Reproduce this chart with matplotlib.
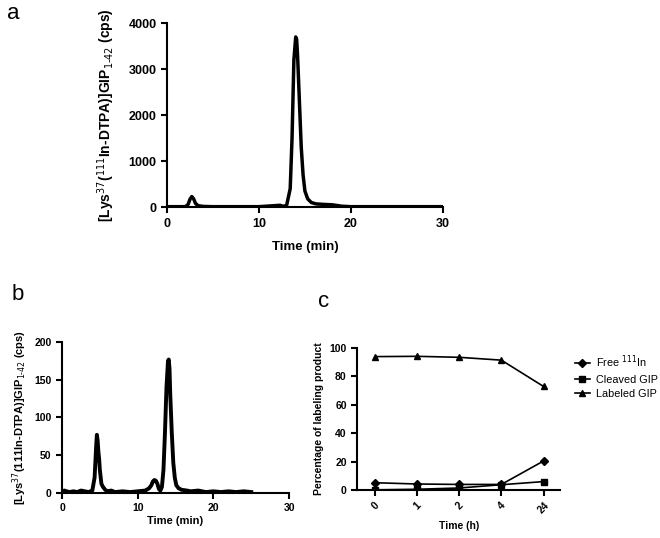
import numpy as np
import matplotlib
matplotlib.use("Agg")
import matplotlib.pyplot as plt

plt.rcParams['font.family'] = ['Liberation Sans', 'DejaVu Sans']

# panel a chromatogram (time in min, counts in cps)
a_time = [0, 2.0, 2.3, 2.5, 2.7, 2.9, 3.1, 3.4, 4.0, 5.0, 10.0, 12.3, 12.6, 13.0, 13.4,
          13.6, 13.8, 14.0, 14.1, 14.2, 14.4, 14.6, 14.8, 15.0, 15.3, 15.7, 16.2, 17.0,
          18.0, 19.0, 20.0, 30.0]
a_cps = [10, 10, 60, 170, 230, 180, 80, 30, 15, 10, 10, 40, 20, 30, 400,
         1500, 3200, 3700, 3650, 3300, 2300, 1300, 700, 350, 180, 100, 70, 60,
         50, 20, 10, 10]

# panel b chromatogram
b_time = [0, 0.3, 0.6, 1.0, 1.5, 2.0, 2.5, 3.0, 3.5, 4.0, 4.3, 4.5, 4.6, 4.7, 4.8, 4.9,
          5.0, 5.2, 5.4, 5.7, 6.0, 6.5, 7.0, 8.0, 9.0, 10.0, 11.0, 11.5, 11.8, 12.0,
          12.2, 12.4, 12.6, 12.8, 13.0, 13.2, 13.4, 13.6, 13.8, 14.0, 14.1, 14.2,
          14.3, 14.5, 14.7, 14.9, 15.1, 15.4, 15.8, 16.5, 17.0, 18.0, 19.0, 20.0,
          21.0, 22.0, 23.0, 24.0, 25.0]
b_cps = [1, 3, 2, 1, 2, 1, 3, 2, 1, 3, 20, 60, 77, 70, 55, 45,
         30, 12, 8, 4, 2, 3, 1, 2, 1, 2, 3, 6, 10, 15,
         17, 16, 12, 5, 3, 8, 30, 80, 140, 175, 177, 165,
         130, 80, 40, 20, 10, 6, 4, 3, 2, 3, 1, 2,
         1, 2, 1, 2, 1]

# panel c stability
c_labels = ['0', '1', '2', '4', '24']
free_in = [5.2, 4.3, 4.0, 4.0, 20.5]
cleaved_gip = [0.2, 0.6, 1.5, 3.8, 6.0]
labeled_gip = [94.0, 94.2, 93.5, 91.5, 73.0]

fig = plt.figure(figsize=(6.6, 5.38), dpi=100)

def style(ax, fs):
    ax.spines['top'].set_visible(False)
    ax.spines['right'].set_visible(False)
    ax.spines['left'].set_linewidth(1.5)
    ax.spines['bottom'].set_linewidth(1.5)
    ax.tick_params(direction='out', width=1.5, length=4, labelsize=fs)
    for lab in ax.get_xticklabels() + ax.get_yticklabels():
        lab.set_fontweight('bold')

# a
ax1 = fig.add_axes([0.253, 0.615, 0.418, 0.342])
ax1.plot(a_time, a_cps, color='black', lw=2.5)
ax1.set_xlim(0, 30)
ax1.set_ylim(0, 4000)
ax1.set_xticks([0, 10, 20, 30])
ax1.set_yticks([0, 1000, 2000, 3000, 4000])
style(ax1, 9)
ax1.set_xlabel('Time (min)', fontsize=9.5, fontweight='bold', labelpad=8)
ax1.set_ylabel(r'[Lys$^{37}$($^{111}$In-DTPA)]GIP$_{1\text{-}42}$ (cps)',
               fontsize=10, fontweight='bold', labelpad=8)
fig.text(0.01, 0.975, 'a', fontsize=16, va='center')

# b
ax2 = fig.add_axes([0.094, 0.084, 0.344, 0.28])
ax2.plot(b_time, b_cps, color='black', lw=2.8)
ax2.set_xlim(0, 30)
ax2.set_ylim(0, 200)
ax2.set_xticks([0, 10, 20, 30])
ax2.set_yticks([0, 50, 100, 150, 200])
style(ax2, 7.5)
ax2.set_xlabel('Time (min)', fontsize=8, fontweight='bold', labelpad=2)
ax2.set_ylabel(r'[Lys$^{37}$(111In-DTPA)]GIP$_{1\text{-}42}$ (cps)',
               fontsize=8, fontweight='bold')
fig.text(0.018, 0.452, 'b', fontsize=16, va='center')

# c
ax3 = fig.add_axes([0.541, 0.089, 0.308, 0.264])
xs = np.arange(len(c_labels))
ax3.plot(xs, free_in, color='black', lw=1.2, marker='D', ms=4.5, label=r'Free $^{111}$In')
ax3.plot(xs, cleaved_gip, color='black', lw=1.2, marker='s', ms=4.5, label='Cleaved GIP')
ax3.plot(xs, labeled_gip, color='black', lw=1.2, marker='^', ms=4.5, label='Labeled GIP')
ax3.set_xlim(-0.43, 4.4)
ax3.set_ylim(0, 100)
ax3.set_xticks(xs)
ax3.set_xticklabels(c_labels, rotation=45)
ax3.set_yticks([0, 20, 40, 60, 80, 100])
style(ax3, 7.5)
ax3.set_xlabel('Time (h)', fontsize=7.5, fontweight='bold', labelpad=4)
ax3.set_ylabel('Percentage of labeling product', fontsize=7.5, fontweight='bold')
ax3.legend(loc='upper left', bbox_to_anchor=(1.07, 0.96), frameon=False,
           fontsize=7.8, handlelength=1.4, handletextpad=0.6, labelspacing=0.4,
           borderaxespad=0, borderpad=0)
fig.text(0.482, 0.44, 'c', fontsize=16, va='center')

fig.savefig('out.png', dpi=100)
